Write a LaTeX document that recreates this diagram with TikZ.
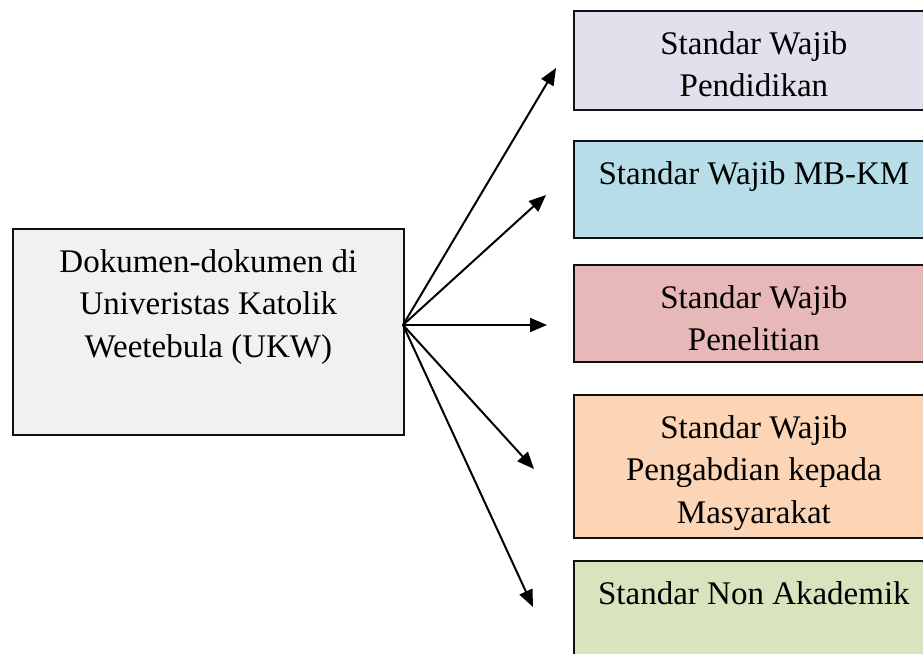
\documentclass[tikz,border=0pt]{standalone}
\usepackage{fontspec}
\setmainfont{Liberation Serif}
\usetikzlibrary{arrows.meta,calc}
\definecolor{cMain}{HTML}{F1F1F1}
\definecolor{cPend}{HTML}{E4DFEC}
\definecolor{cMBKM}{HTML}{B7DEE8}
\definecolor{cPen}{HTML}{E6B9B8}
\definecolor{cPKM}{HTML}{FBD5B5}
\definecolor{cNon}{HTML}{D7E4BD}
\definecolor{cEdge}{HTML}{111111}
\tikzset{
  box/.style={draw=cEdge, line width=1.8pt, inner sep=0pt, anchor=north west, minimum width=360pt},
  lbl/.style={anchor=north, inner sep=0pt, align=center, font=\fontsize{33}{42.5}\selectfont},
  arr/.style={line width=2pt, -{Triangle[length=17pt,width=14pt]}}
}
\begin{document}
\begin{tikzpicture}[x=1pt,y=-1pt]
\useasboundingbox (0,0) rectangle (923,653);
% main box
\node[box, fill=cMain, minimum width=391pt, minimum height=206pt] (M) at (12,228) {};
\node[lbl] (Mt) at ($(M.north)+(0,21)$) {Dokumen-dokumen di\\Univeristas Katolik\\Weetebula (UKW)};
% right boxes
\node[box, fill=cPend, minimum height=99pt] (B1) at (573,10) {};
\node[lbl] (B1t) at ($(B1.north)+(0,21)$) {Standar Wajib\\Pendidikan};
\node[box, fill=cMBKM, minimum height=97pt] (B2) at (573,140) {};
\node[lbl] (B2t) at ($(B2.north)+(0,21)$) {Standar Wajib MB-KM};
\node[box, fill=cPen, minimum height=97pt] (B3) at (573,264) {};
\node[lbl] (B3t) at ($(B3.north)+(0,21)$) {Standar Wajib\\Penelitian};
\node[box, fill=cPKM, minimum height=143pt] (B4) at (573,394) {};
\node[lbl] (B4t) at ($(B4.north)+(0,21)$) {Standar Wajib\\Pengabdian kepada\\Masyarakat};
\node[box, fill=cNon, minimum height=120pt] (B5) at (573,560) {};
\node[lbl] (B5t) at ($(B5.north)+(0,21)$) {Standar Non Akademik};
% arrows
\coordinate (hub) at (403,325);
\coordinate (t1) at (556,68);
\coordinate (t2) at (546,195);
\coordinate (t3) at (547,325);
\coordinate (t4) at (534,469);
\coordinate (t5) at (533,607);
\foreach \t in {t1,t2,t3,t4,t5} \draw[arr] (hub) -- (\t);
\end{tikzpicture}
\end{document}
